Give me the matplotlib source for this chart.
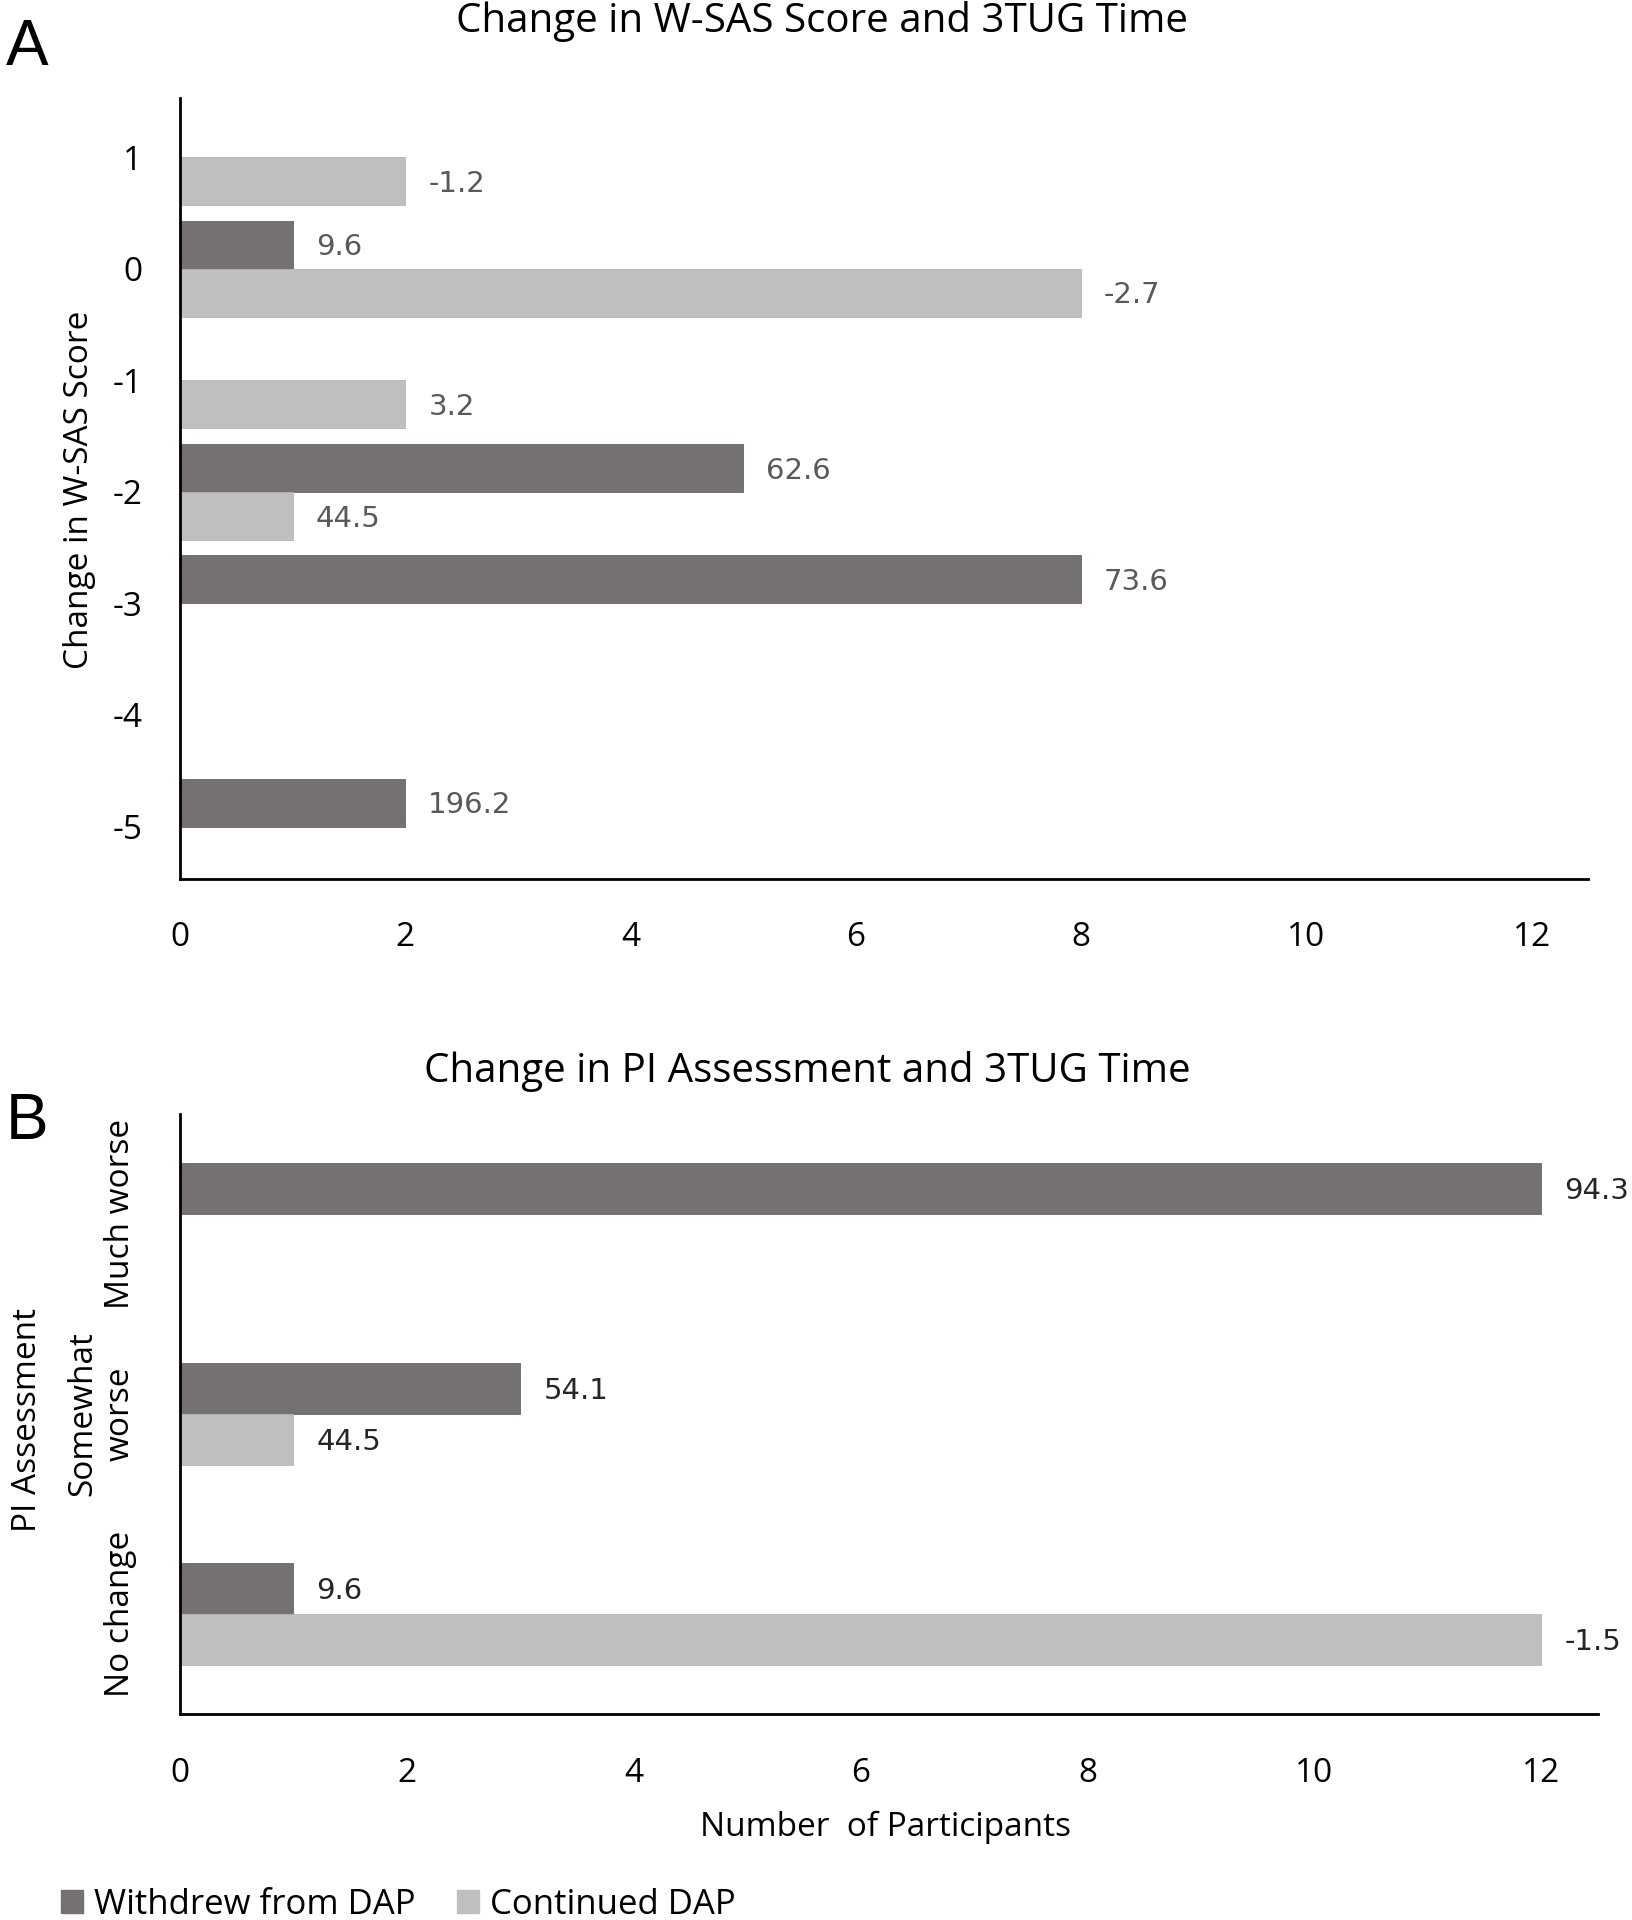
import matplotlib
matplotlib.use("Agg")
import matplotlib.pyplot as plt
from matplotlib.patches import Patch

FONT = ['Liberation Sans Narrow', 'Open Sans', 'DejaVu Sans']
plt.rcParams['font.family'] = FONT

# ---------------- data ----------------
wsas_categories = [1, 0, -1, -2, -3, -4, -5]
wsas_withdrew = [0, 1, 0, 5, 8, 0, 2]
wsas_withdrew_labels = ['', '9.6', '', '62.6', '73.6', '', '196.2']
wsas_continued = [2, 8, 2, 1, 0, 0, 0]
wsas_continued_labels = ['-1.2', '-2.7', '3.2', '44.5', '', '', '']

pi_categories = ['Much worse', 'Somewhat\nworse', 'No change']
pi_withdrew = [12, 3, 1]
pi_withdrew_labels = ['94.3', '54.1', '9.6']
pi_continued = [0, 1, 12]
pi_continued_labels = ['', '44.5', '-1.5']

x_ticks = [0, 2, 4, 6, 8, 10, 12]
series_names = ['Withdrew from DAP', 'Continued DAP']

DARK = '#767171'
LIGHT = '#BFBFBF'

fig = plt.figure(figsize=(16.32, 19.2), dpi=100)

def style_axes(ax):
    for s in ['top', 'right']:
        ax.spines[s].set_visible(False)
    for s in ['left', 'bottom']:
        ax.spines[s].set_linewidth(2)
        ax.spines[s].set_color('black')
    ax.tick_params(length=0)

def label_bars(ax, bars, labels, color, offset_px=23):
    for b, lab in zip(bars, labels):
        if lab == '' or b.get_width() == 0:
            continue
        ax.annotate(lab, (b.get_width(), b.get_y() + b.get_height() / 2),
                    xytext=(offset_px * 0.72, -2), textcoords='offset points',
                    ha='left', va='center', fontsize=21, color=color,
                    family=['DejaVu Sans'])

# ---------------- Panel A ----------------
axA = fig.add_axes([0.1103, 0.5422, 0.8627, 0.4068])
h = 0.43
ya = wsas_categories
bA1 = axA.barh([y + h / 2 for y in ya], wsas_withdrew, height=h, color=DARK,
               edgecolor='#6a6666', linewidth=0.6)
bA2 = axA.barh([y - h / 2 for y in ya], wsas_continued, height=h, color=LIGHT,
               edgecolor='#b5b5b5', linewidth=0.6)
label_bars(axA, bA1, wsas_withdrew_labels, '#595959')
label_bars(axA, bA2, wsas_continued_labels, '#595959')
axA.set_xlim(0, 12.5)
axA.set_ylim(-5.47, 1.53)
axA.set_xticks(x_ticks)
axA.set_xticklabels([str(t) for t in x_ticks], fontsize=24)
axA.set_yticks(wsas_categories)
axA.set_yticklabels([str(c) for c in wsas_categories], fontsize=24)
style_axes(axA)
axA.tick_params(axis='x', pad=30)
axA.tick_params(axis='y', pad=27)
fig.text(80 / 1632, 1 - 490 / 1920, 'Change in W-SAS Score', rotation=90,
         ha='center', va='center', fontsize=24)
fig.text(822 / 1632, 1 - 21 / 1920, 'Change in W-SAS Score and 3TUG Time',
         ha='center', va='center', fontsize=29)
fig.text(6 / 1632, 1 - 48 / 1920, 'A', ha='left', va='center', fontsize=46,
         family=['Liberation Sans', 'DejaVu Sans'])

# ---------------- Panel B ----------------
axB = fig.add_axes([0.1103, 0.1073, 0.8689, 0.3125])
hb = 0.255
yb = [2, 1, 0]
bB1 = axB.barh([y + hb / 2 for y in yb], pi_withdrew, height=hb, color=DARK,
               edgecolor='#6a6666', linewidth=0.6)
bB2 = axB.barh([y - hb / 2 for y in yb], pi_continued, height=hb, color=LIGHT,
               edgecolor='#b5b5b5', linewidth=0.6)
label_bars(axB, bB1, pi_withdrew_labels, '#262626')
label_bars(axB, bB2, pi_continued_labels, '#262626')
axB.set_xlim(0, 12.5)
axB.set_ylim(-0.5, 2.5)
axB.set_xticks(x_ticks)
axB.set_xticklabels([str(t) for t in x_ticks], fontsize=24)
axB.set_yticks(yb)
axB.set_yticklabels(pi_categories, fontsize=24, rotation=90, va='center',
                    multialignment='center')
style_axes(axB)
axB.tick_params(axis='x', pad=31)
axB.tick_params(axis='y', pad=31)
fig.text(28 / 1632, 1 - 1420 / 1920, 'PI Assessment', rotation=90,
         ha='center', va='center', fontsize=24)
fig.text(807 / 1632, 1 - 1071 / 1920, 'Change in PI Assessment and 3TUG Time',
         ha='center', va='center', fontsize=29)
fig.text(6 / 1632, 1 - 1122 / 1920, 'B', ha='left', va='center', fontsize=46,
         family=['Liberation Sans', 'DejaVu Sans'])
fig.text(886 / 1632, 1 - 1827 / 1920, 'Number  of Participants',
         ha='center', va='center', fontsize=24)

# ---------------- Legend ----------------
handles = [Patch(facecolor=DARK, edgecolor=DARK), Patch(facecolor=LIGHT, edgecolor=LIGHT)]
fig.legend(handles, series_names, loc='center left', bbox_to_anchor=(61 / 1632, 0.0078),
           ncol=2, frameon=False, fontsize=25, handlelength=0.63, handleheight=0.63,
           handletextpad=0.32, columnspacing=1.2, borderpad=0, borderaxespad=0)

fig.savefig('out.png', dpi=100)
